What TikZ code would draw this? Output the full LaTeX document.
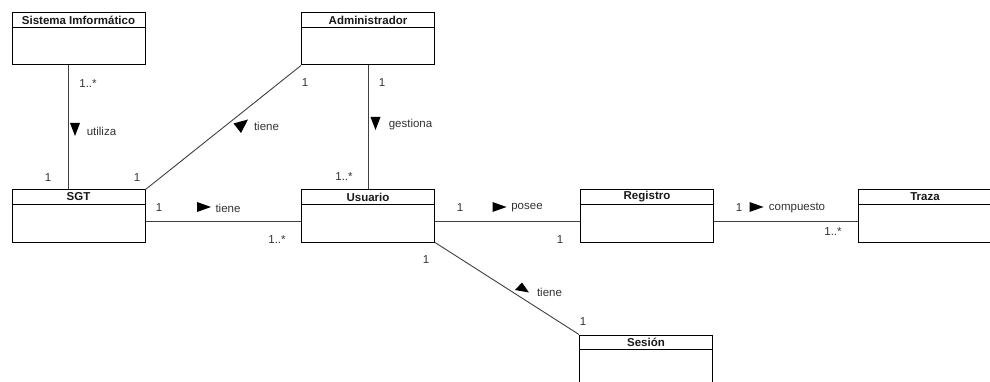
\documentclass[tikz,border=0pt]{standalone}
\usepackage{fontspec}
\setmainfont{Liberation Sans}
\usetikzlibrary{calc}
\begin{document}
\begin{tikzpicture}[x=1pt,y=-1pt,
  cls/.style={draw=black,line width=1pt,minimum width=133pt,minimum height=52pt,inner sep=0pt,fill=white},
  ttl/.style={font=\fontsize{11.5}{12}\selectfont\bfseries,inner sep=0pt,text=black!90},
  lbl/.style={font=\fontsize{11.5}{12}\selectfont,inner sep=0pt,text=black!80},
  conn/.style={draw=black!75,line width=0.9pt},
  tri/.style={fill=black}]
\clip (0,0) rectangle (990,382);
\fill[white] (0,0) rectangle (990,382);
\newcommand{\hdr}[2]{%
  \draw[line width=1pt] ([yshift=-15pt]#1.north west) -- ([yshift=-15pt]#1.north east);
  \node[ttl] at ([yshift=-7.5pt]#1.north) {#2};}
% classes
\node[cls] (sis) at (78.5,39) {};
\node[cls] (adm) at (368,39) {};
\node[cls] (sgt) at (78.5,216) {};
\node[cls] (usu) at (368,216) {};
\node[cls] (reg) at (647,216) {};
\node[cls] (tra) at (925,216) {};
\node[cls] (ses) at (646,361) {};
\hdr{sis}{Sistema Imformático}
\hdr{adm}{Administrador}
\hdr{sgt}{SGT}
\hdr{usu}{Usuario}
\hdr{reg}{Registro}
\hdr{tra}{Traza}
\hdr{ses}{Sesión}
% connectors
\draw[conn] ([xshift=-10.5pt]sis.south) -- ([xshift=-10.5pt]sgt.north);
\draw[conn] (sgt.north east) -- (adm.south west);
\draw[conn] (adm.south) -- (usu.north);
\draw[conn] ([yshift=-5pt]sgt.east) -- ([yshift=-5pt]usu.west);
\draw[conn] ([yshift=-5pt]usu.east) -- ([yshift=-5pt]reg.west);
\draw[conn] ([yshift=-5pt]reg.east) -- ([yshift=-5pt]tra.west);
\draw[conn] (usu.south east) -- (ses.north west);
% direction triangles
\fill[tri] (75,136) -- (70,123) -- (80,123) -- cycle;
\fill[tri] (375.5,130) -- (370.5,117) -- (380.5,117) -- cycle;
\fill[tri] (233.5,123.5) -- (248,119.5) -- (241,133) -- cycle;
\fill[tri] (211,207) -- (197,202) -- (197,212) -- cycle;
\fill[tri] (506.5,207) -- (492.5,202) -- (492.5,212) -- cycle;
\fill[tri] (763.5,207) -- (749.5,202) -- (749.5,212) -- cycle;
\fill[tri] (522,282.5) -- (515,290) -- (529,292.5) -- cycle;
% labels
\node[lbl] (m1) at (88,84) {1..*};
\node[lbl] (l1) at (101.5,131) {utiliza};
\node[lbl] (m2) at (48,178) {1};
\node[lbl] (m3) at (137,178) {1};
\node[lbl] (m4) at (305,83) {1};
\node[lbl] (l2) at (266.5,126) {tiene};
\node[lbl] (m5) at (382,83) {1};
\node[lbl] (l3) at (410.5,125) {gestiona};
\node[lbl] (m6) at (344,177) {1..*};
\node[lbl] (m7) at (159,208) {1};
\node[lbl] (l4) at (228,208) {tiene};
\node[lbl] (m8) at (277,240) {1..*};
\node[lbl] (m9) at (460,208) {1};
\node[lbl] (l5) at (527,208) {posee};
\node[lbl] (m10) at (560,240) {1};
\node[lbl] (m11) at (739,208) {1};
\node[lbl] (l6) at (797,208) {compuesto};
\node[lbl] (m12) at (833,232) {1..*};
\node[lbl] (m13) at (426,260) {1};
\node[lbl] (l7) at (549.5,292) {tiene};
\node[lbl] (m14) at (583,322) {1};
\end{tikzpicture}
\end{document}
